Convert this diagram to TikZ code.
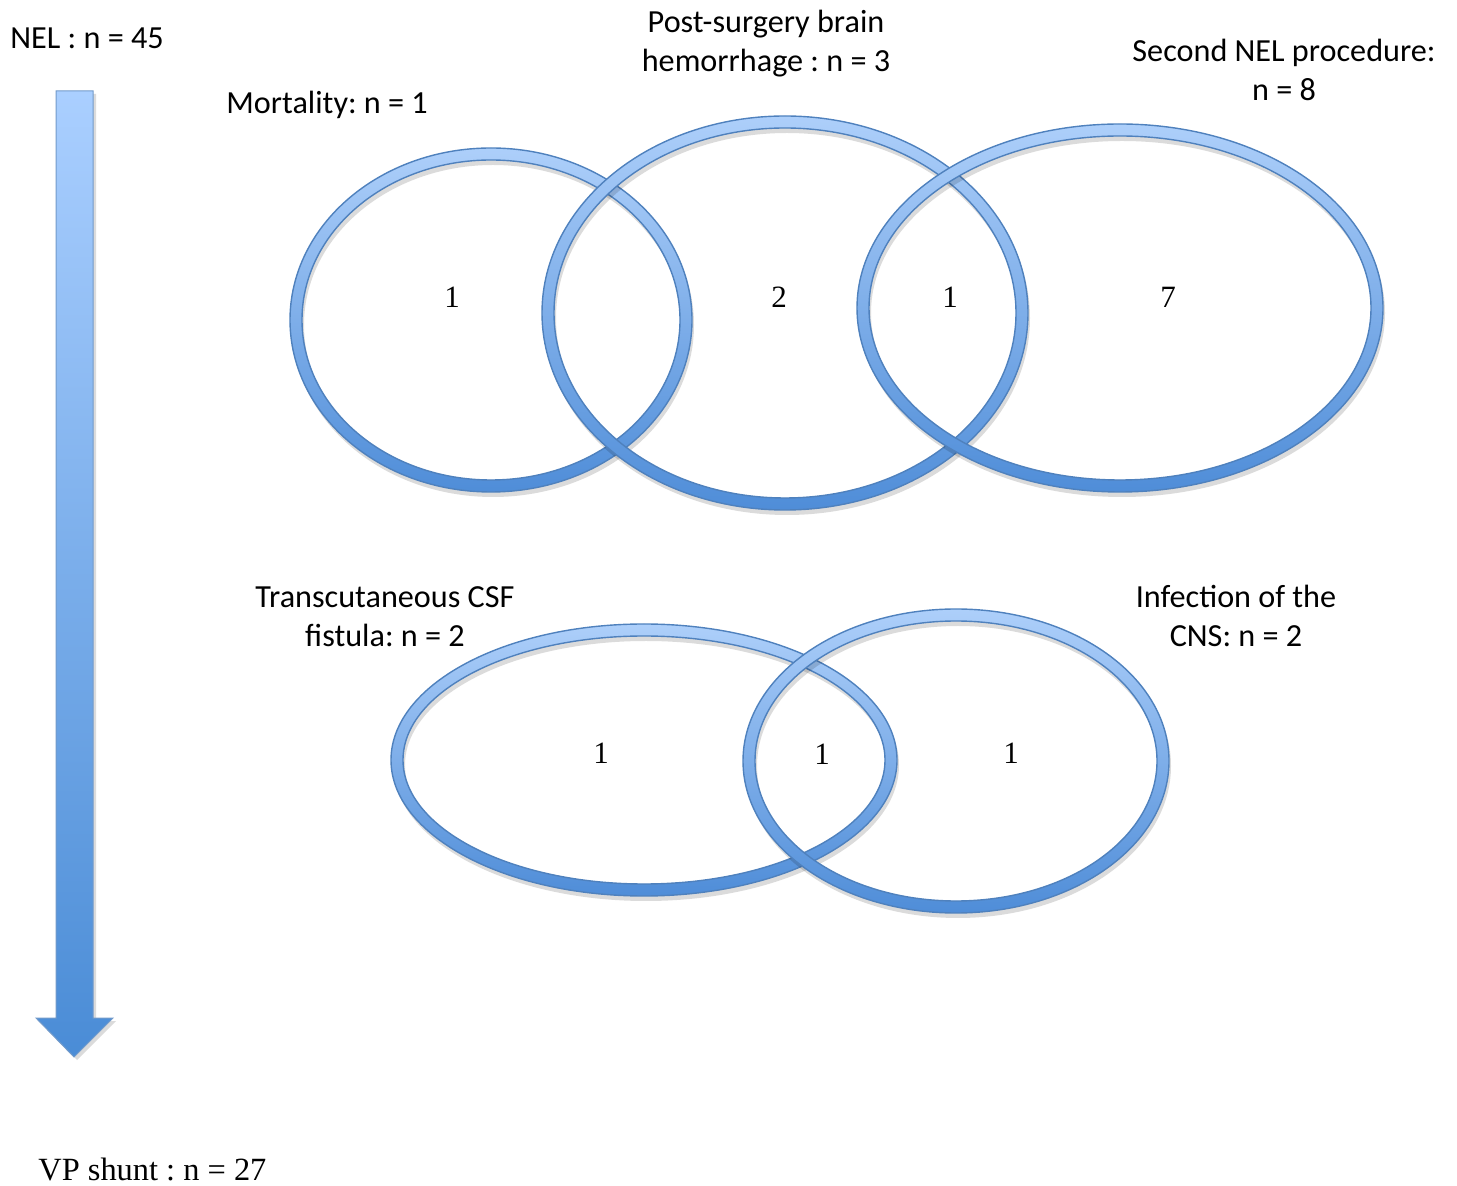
\documentclass[tikz,border=0pt]{standalone}
\usepackage{fontspec}
\setmainfont{Carlito}
\newfontfamily\serifnum{Liberation Serif}
\frenchspacing
\definecolor{ringtop}{HTML}{ADCFFA}
\definecolor{ringbot}{HTML}{4F8DD8}
\definecolor{ringedge}{HTML}{4F81BD}
\definecolor{arrtop}{HTML}{AACFFF}
\definecolor{arrbot}{HTML}{4A8CD6}
\newcommand\vring[4]{%
  \fill[black,opacity=0.14,even odd rule] (#1+2,#2+5) ellipse ({#3} and {#4}) (#1+2,#2+5) ellipse ({#3-12} and {#4-12});
  \shade[even odd rule,top color=ringtop,bottom color=ringbot] (#1,#2) ellipse ({#3} and {#4}) (#1,#2) ellipse ({#3-12} and {#4-12});
  \draw[ringedge,line width=0.7pt] (#1,#2) ellipse ({#3} and {#4}) (#1,#2) ellipse ({#3-12} and {#4-12});
}
\tikzset{
  lbl/.style={font=\frenchspacing\fontsize{16.1}{19.5}\selectfont,inner sep=0pt,align=center},
  num/.style={font=\serifnum\fontsize{15.5}{18}\selectfont,inner sep=0pt},
}
\begin{document}
\begin{tikzpicture}[x=0.5pt,y=-0.5pt]
\useasboundingbox (0,0) rectangle (1457,1186);
% arrow
\fill[black,opacity=0.14] (58,94) -- (96,94) -- (96,1021) -- (116,1021) -- (77,1060) -- (39,1021) -- (58,1021) -- cycle;
\shade[top color=arrtop,bottom color=arrbot,draw=ringedge!80,line width=0.5pt]
  (56,91) -- (93,91) -- (93,1018) -- (113,1018) -- (74,1057) -- (36,1018) -- (56,1018) -- cycle;
% rings
\vring{491}{320}{201}{172}
\vring{785}{313}{243}{197}
\vring{1120}{308}{263}{184}
\vring{644}{760}{253}{136}
\vring{956}{761}{213}{152}
% labels
\node[lbl,anchor=base west] (nel) at (10,49) {NEL : n = 45};
\node[lbl,anchor=base west] (mort) at (226,114) {Mortality: n = 1};
\node[lbl,anchor=base] (hem) at (766,72) {Post-surgery brain\\hemorrhage : n = 3};
\node[lbl,anchor=base] (sec) at (1284,101) {Second NEL procedure:\\n = 8};
\node[lbl,anchor=base] (csf) at (385,647) {Transcutaneous CSF\\fistula: n = 2};
\node[lbl,anchor=base] (inf) at (1236,647) {Infection of the\\CNS: n = 2};
\node[num,font=\serifnum\frenchspacing\fontsize{16.2}{18}\selectfont,anchor=base west] (vp) at (38,1180) {VP shunt : n = 27};
% numbers
\node[num,anchor=base] (n1) at (452,308) {1};
\node[num,anchor=base] (n2) at (779,308) {2};
\node[num,anchor=base] (n3) at (950,308) {1};
\node[num,anchor=base] (n4) at (1168,308) {7};
\node[num,anchor=base] (n5) at (601,764) {1};
\node[num,anchor=base] (n6) at (822,765) {1};
\node[num,anchor=base] (n7) at (1011,764) {1};
\end{tikzpicture}
\end{document}
